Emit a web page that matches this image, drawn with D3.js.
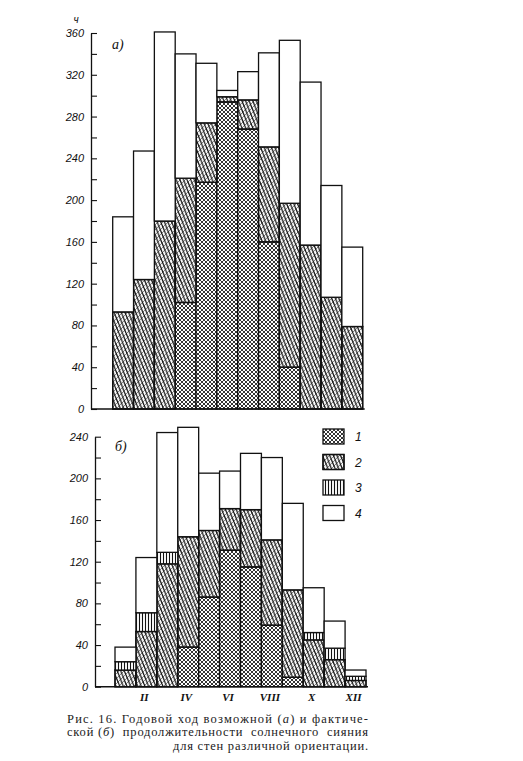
<!DOCTYPE html>
<html><head><meta charset="utf-8">
<script src="https://cdn.jsdelivr.net/npm/d3@7"></script>
<style>html,body{margin:0;padding:0;background:#fff;}</style>
</head><body>
<script>
// ---- data ----
const months = ["I","II","III","IV","V","VI","VII","VIII","IX","X","XI","XII"];
const monthLabels = ["II","IV","VI","VIII","X","XII"];
const seriesKeys = ["s1","s2","s3","s4"];
const legendLabels = ["1","2","3","4"];
// panel а) — possible sunshine duration, hours (segment heights)
const a1 = [0,0,0,102,217,294,268,160,40,0,0,0];
const a2 = [93,124,180,119,57,5,28,91,157,157,107,79];
const a3 = [0,0,0,0,0,0,0,0,0,0,0,0];
const a4 = [91,123,181,119,57,6,27,90,156,156,107,76];
// panel б) — actual sunshine duration, hours (segment heights)
const b1 = [0,0,0,38,86,131,115,59,9,0,0,0];
const b2 = [16,53,118,106,64,40,55,82,84,45,26,6];
const b3 = [8,18,11,0,0,0,0,0,0,7,11,4];
const b4 = [14,53,115,105,55,36,54,79,83,43,26,6];
const aTicks = d3.range(0,361,20);
const bTicks = d3.range(0,241,20);
const caption1 = [["Рис. 16. Годовой ход возможной (",false],["а",true],[") и фактиче-",false]];
const caption2 = [["ской (",false],["б",true],[")  продолжительности  солнечного  сияния",false]];
const caption3 = "для стен различной ориентации.";

const W=523,H=761;
const svg=d3.select("body").append("svg").attr("width",W).attr("height",H);
svg.append("rect").attr("width",W).attr("height",H).attr("fill","#fff");
const defs=svg.append("defs");
// patterns
const p1=defs.append("pattern").attr("id","p1").attr("width",4).attr("height",4).attr("patternUnits","userSpaceOnUse");
p1.append("rect").attr("width",4).attr("height",4).attr("fill","#fff");
p1.append("path").attr("d","M-1,-1L5,5M5,-1L-1,5M-1,3L1,5M3,-1L5,1M3,5L5,3M-1,1L1,-1").attr("stroke","#111").attr("stroke-width",0.85);
const p2=defs.append("pattern").attr("id","p2").attr("width",3.6).attr("height",9).attr("patternUnits","userSpaceOnUse");
p2.append("rect").attr("width",3.6).attr("height",9).attr("fill","#fff");
p2.append("path").attr("d","M0,0L3.6,9M-3.6,0L0,9M3.6,0L7.2,9").attr("stroke","#111").attr("stroke-width",1.25);
const p2b=defs.append("pattern").attr("id","p2b").attr("width",5).attr("height",5).attr("patternUnits","userSpaceOnUse");
p2b.append("path").attr("d","M0,5L5,0M-2.5,2.5L2.5,-2.5M2.5,7.5L7.5,2.5").attr("stroke","#111").attr("stroke-width",0.5);
const p3=defs.append("pattern").attr("id","p3").attr("width",3).attr("height",3).attr("patternUnits","userSpaceOnUse");
p3.append("rect").attr("width",3).attr("height",3).attr("fill","#fff");
p3.append("path").attr("d","M1.5,0V3").attr("stroke","#111").attr("stroke-width",1.1);
const fills={s1:"url(#p1)",s2:"url(#p2)",s3:"url(#p3)",s4:"#fff"};

const numFont="'Liberation Sans', Arial, sans-serif";

function panel(vals, cfg){
  const rows=months.map((m,i)=>({m, s1:vals[0][i], s2:vals[1][i], s3:vals[2][i], s4:vals[3][i]}));
  const stack=d3.stack().keys(seriesKeys)(rows);
  const x=d3.scaleBand().domain(months).range([cfg.x0,cfg.x1]).padding(0);
  const y=d3.scaleLinear().domain([0,cfg.max]).range([cfg.yb,cfg.yt]);
  const g=svg.append("g");
  stack.forEach(layer=>{
    const k=layer.key;
    const segs=layer.filter(d=>d[1]-d[0]>0);
    g.selectAll(null).data(segs).join("rect")
      .attr("x",d=>x(d.data.m)).attr("width",x.bandwidth())
      .attr("y",d=>y(d[1])).attr("height",d=>y(d[0])-y(d[1]))
      .attr("fill",fills[k]).attr("stroke","#111").attr("stroke-width",1.3);
    if(k==="s2"){
      g.selectAll(null).data(segs).join("rect")
        .attr("x",d=>x(d.data.m)).attr("width",x.bandwidth())
        .attr("y",d=>y(d[1])).attr("height",d=>y(d[0])-y(d[1]))
        .attr("fill","url(#p2b)").attr("stroke","#111").attr("stroke-width",1.3);
    }
  });
  // axis
  const ax=d3.axisLeft(y).tickValues(cfg.ticks).tickSizeInner(-6).tickSizeOuter(0).tickPadding(7)
    .tickFormat(v=>v%40===0?String(v):"");
  const ag=svg.append("g").attr("transform",`translate(${cfg.ax},0)`).call(ax);
  ag.select(".domain").attr("stroke","#111").attr("stroke-width",1.3);
  ag.selectAll(".tick line").attr("stroke","#111").attr("stroke-width",1.1);
  ag.selectAll(".tick text").attr("font-family",numFont).attr("font-style","italic")
    .attr("font-size",11).attr("fill","#111");
  // baseline
  svg.append("line").attr("x1",cfg.ax).attr("x2",cfg.x1+2).attr("y1",y(0)).attr("y2",y(0))
    .attr("stroke","#111").attr("stroke-width",1.4);
  svg.append("text").attr("x",cfg.lx).attr("y",cfg.ly).text(cfg.label)
    .attr("font-family","'Liberation Serif', serif").attr("font-style","italic").attr("font-size",14).attr("fill","#111");
  return {x,y};
}

panel([a1,a2,a3,a4],{x0:112.7,x1:362.7,yb:409,yt:33,max:360,ax:91,ticks:aTicks,label:"а)",lx:112,ly:49});
const pb=panel([b1,b2,b3,b4],{x0:115,x1:366,yb:686.7,yt:436.7,max:240,ax:95,ticks:bTicks,label:"б)",lx:115,ly:451});

// unit label
svg.append("text").attr("x",76).attr("y",23).text("ч").attr("font-family",numFont)
  .attr("font-style","italic").attr("font-size",10).attr("text-anchor","middle").attr("fill","#111");

// month labels (bottom panel)
svg.selectAll(null).data(monthLabels).join("text")
  .attr("x",d=>pb.x(d)+pb.x.bandwidth()/2-2).attr("y",701).text(d=>d)
  .attr("text-anchor","middle").attr("font-family","'Liberation Serif', serif").attr("font-style","italic")
  .attr("font-weight","bold").attr("font-size",11).attr("fill","#111");

// legend
const lg=svg.append("g");
seriesKeys.forEach((k,i)=>{
  const yy=429+i*25.5;
  lg.append("rect").attr("x",323).attr("y",yy).attr("width",21).attr("height",15)
    .attr("fill",fills[k]).attr("stroke","#111").attr("stroke-width",1.3);
  if(k==="s2") lg.append("rect").attr("x",323).attr("y",yy).attr("width",21).attr("height",15)
    .attr("fill","url(#p2b)").attr("stroke","#111").attr("stroke-width",1.3);
  lg.append("text").attr("x",355).attr("y",yy+12).text(legendLabels[i])
    .attr("font-family",numFont).attr("font-style","italic").attr("font-size",12).attr("fill","#111");
});

// caption
const cf="'Liberation Serif', 'DejaVu Serif', serif";
function capLine(parts,y){
  const t=svg.append("text").attr("x",67).attr("y",y).attr("font-family",cf).attr("font-size",12.5)
    .attr("textLength",301).attr("lengthAdjust","spacing").attr("fill","#222").attr("xml:space","preserve");
  parts.forEach(p=>t.append("tspan").text(p[0]).attr("font-style",p[1]?"italic":"normal"));
}
capLine(caption1,723);
capLine(caption2,736);
svg.append("text").attr("x",173).attr("y",750).text(caption3).attr("font-family",cf).attr("font-size",12.5)
  .attr("textLength",195).attr("lengthAdjust","spacing").attr("fill","#222");
</script>
</body></html>
